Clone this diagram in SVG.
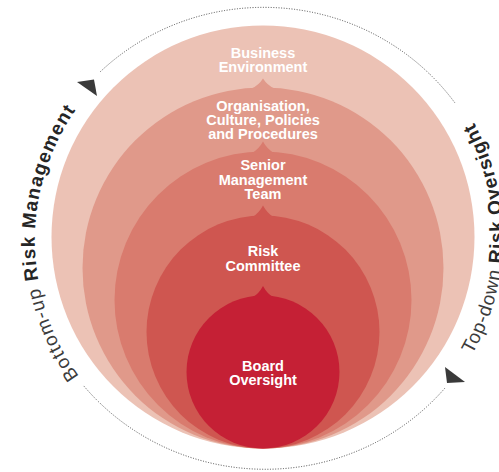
<svg xmlns="http://www.w3.org/2000/svg" width="499" height="472" viewBox="0 0 499 472">
  <defs>
    <style>
      .lbl { font-family: "Liberation Sans", Arial, sans-serif; font-weight: bold; font-size: 14.5px; fill: #ffffff; text-anchor: middle; }
      .side { font-family: "Liberation Sans", Arial, sans-serif; font-size: 19px; }
      .light { fill: #3c3c3c; font-weight: normal; }
      .strong { fill: #262626; font-weight: bold; }
      .dots { fill: none; stroke: #4a4a4a; stroke-width: 1; stroke-dasharray: 1 1.6; }
      .arrow { fill: #3a3a3a; }
    </style>
    <path id="leftArc" d="M 78.9 376.2 A 230 230 0 0 1 77.4 107.6"/>
    <path id="rightArc" d="M 472.3 354.4 A 240 240 0 0 0 470.8 117"/>
  </defs>

  <g id="business-environment">
    <circle cx="263" cy="237" r="211.5" fill="#ECC2B5"/>
    <text class="lbl" x="263" y="57.5">Business</text>
    <text class="lbl" x="263" y="71.5">Environment</text>
  </g>

  <g id="organisation-culture">
    <circle cx="263" cy="268" r="180.5" fill="#E0998A"/>
    <path d="M 251.5 88.6 Q 259 85 263 78.5 Q 267 85 274.5 88.6 Z" fill="#E0998A"/>
    <text class="lbl" x="263" y="111">Organisation,</text>
    <text class="lbl" x="263" y="125">Culture, Policies</text>
    <text class="lbl" x="263" y="139">and Procedures</text>
  </g>

  <g id="senior-management-team">
    <circle cx="263" cy="300" r="148.5" fill="#D97B6E"/>
    <path d="M 252 152.9 Q 259 149 263 141.5 Q 267 149 274 152.9 Z" fill="#D97B6E"/>
    <text class="lbl" x="263" y="170">Senior</text>
    <text class="lbl" x="263" y="184.5">Management</text>
    <text class="lbl" x="263" y="199">Team</text>
  </g>

  <g id="risk-committee">
    <circle cx="263" cy="332" r="116.5" fill="#CF5650"/>
    <path d="M 252.5 217 Q 259 213 263 205.5 Q 267 213 273.5 217 Z" fill="#CF5650"/>
    <text class="lbl" x="263" y="256">Risk</text>
    <text class="lbl" x="263" y="271">Committee</text>
  </g>

  <g id="board-oversight">
    <circle cx="263" cy="372" r="76.5" fill="#C52035"/>
    <path d="M 253 297 Q 259 293.5 263 286 Q 267 293.5 273 297 Z" fill="#C52035"/>
    <text class="lbl" x="263" y="371">Board</text>
    <text class="lbl" x="263" y="385">Oversight</text>
  </g>

  <g id="connectors">
    <path class="dots" d="M 100 72 A 236 231 0 0 1 455 103"/>
    <path class="dots" d="M 445 388 A 236 231 0 0 1 83 385"/>
    <polygon class="arrow" points="77,82 94,79.5 97,96"/>
    <polygon class="arrow" points="445,367 447,383 465,382"/>
  </g>

  <g id="bottom-up-label">
    <text class="side" letter-spacing="1.2"><textPath href="#leftArc"><tspan class="light">Bottom-up </tspan><tspan class="strong">Risk Management</tspan></textPath></text>
  </g>

  <g id="top-down-label">
    <text class="side" letter-spacing="0.9"><textPath href="#rightArc"><tspan class="light">Top-down </tspan><tspan class="strong">Risk Oversight</tspan></textPath></text>
  </g>
</svg>
